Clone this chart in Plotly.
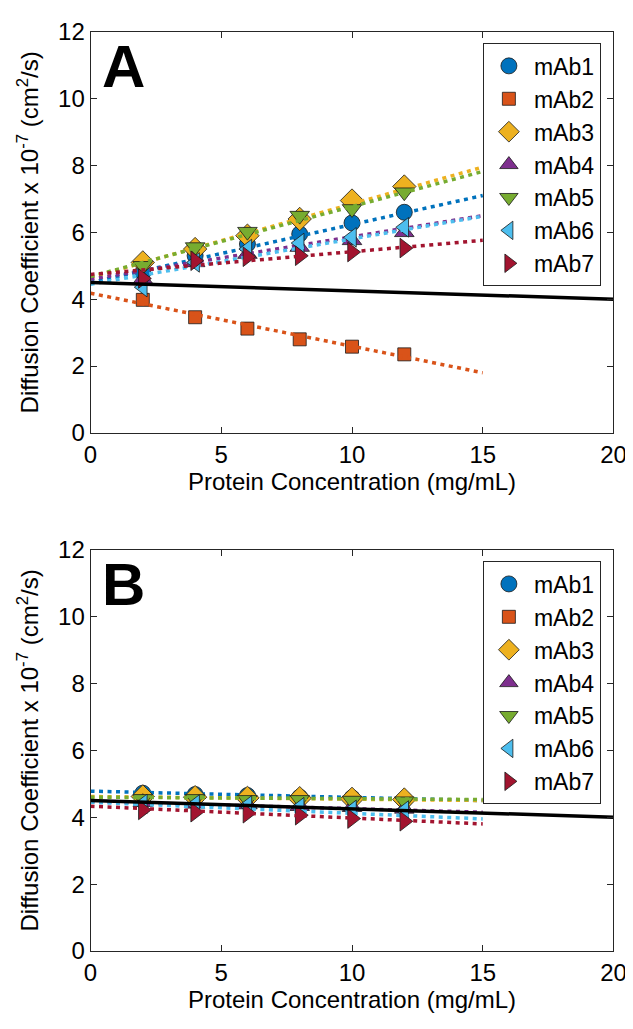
import plotly.graph_objects as go

# ---------------- data ----------------
conc = [2, 4, 6, 8, 10, 12]
names = ["mAb1", "mAb2", "mAb3", "mAb4", "mAb5", "mAb6", "mAb7"]

# Panel A measured diffusion coefficients (x 1e-7 cm^2/s)
a_mab1 = [4.80, 5.30, 5.65, 5.95, 6.28, 6.60]
a_mab2 = [3.98, 3.46, 3.12, 2.80, 2.58, 2.35]
a_mab3 = [5.10, 5.50, 5.90, 6.40, 6.95, 7.37]
a_mab4 = [4.60, 5.10, 5.35, 5.56, 5.76, 6.00]
a_mab5 = [5.00, 5.56, 6.02, 6.50, 6.70, 7.20]
a_mab6 = [4.36, 5.10, 5.50, 5.68, 5.85, 6.15]
a_mab7 = [4.62, 5.15, 5.27, 5.30, 5.41, 5.53]

# Panel A linear fits: value at 0 and at 15 mg/mL
fit_x = [0, 15]
a_fit_start = [4.50, 4.18, 4.65, 4.60, 4.68, 4.45, 4.74]
a_fit_end = [7.10, 1.80, 7.95, 6.50, 7.82, 6.48, 5.76]

# Panel B measured diffusion coefficients
b_mab1 = [4.72, 4.68, 4.65, 4.60, 4.58, 4.52]
b_mab2 = []  # not shown in panel B
b_mab3 = [4.62, 4.60, 4.58, 4.57, 4.55, 4.53]
b_mab4 = [4.45, 4.40, 4.38, 4.33, 4.30, 4.25]
b_mab5 = [4.55, 4.55, 4.52, 4.52, 4.50, 4.48]
b_mab6 = [4.40, 4.38, 4.35, 4.30, 4.22, 4.20]
b_mab7 = [4.22, 4.15, 4.12, 4.06, 3.96, 3.88]

b_fit_start = [4.78, None, 4.62, 4.47, 4.60, 4.45, 4.33]
b_fit_end = [4.50, None, 4.50, 4.15, 4.53, 3.95, 3.80]

# Reference (solid black) line
ref_x = [0, 20]
ref_y = [4.5, 4.0]

x_ticks = [0, 5, 10, 15, 20]
y_ticks = [0, 2, 4, 6, 8, 10, 12]

# ---------------- style ----------------
colors = ["#0072BD", "#D95319", "#EDB120", "#7E2F8E", "#77AC30", "#4DBEEE", "#A2142F"]
symbols = ["circle", "square", "diamond", "triangle-up", "triangle-down", "triangle-left", "triangle-right"]
sizes = [16, 13, 18, 17, 17, 17, 17]
FONT = "Liberation Sans, Arial, sans-serif"
AX = "#262626"

a_vals = [a_mab1, a_mab2, a_mab3, a_mab4, a_mab5, a_mab6, a_mab7]
b_vals = [b_mab1, b_mab2, b_mab3, b_mab4, b_mab5, b_mab6, b_mab7]

fig = go.Figure()

def add_panel(vals, fs, fe, xa, ya, legend):
    for i, nm in enumerate(names):
        xs = conc[:len(vals[i])]
        fig.add_trace(go.Scatter(
            x=xs if xs else [None], y=vals[i] if vals[i] else [None],
            mode="markers", name=nm, xaxis=xa, yaxis=ya, legend=legend,
            marker=dict(symbol=symbols[i], size=sizes[i], color=colors[i],
                        line=dict(color="#1a1a1a", width=0.8)),
        ))
        if fs[i] is not None:
            fig.add_trace(go.Scatter(
                x=fit_x, y=[fs[i], fe[i]], mode="lines", showlegend=False,
                xaxis=xa, yaxis=ya, hoverinfo="skip",
                line=dict(color=colors[i], width=3.5, dash="4px,4.5px"),
            ))
    fig.add_trace(go.Scatter(
        x=ref_x, y=ref_y, mode="lines", showlegend=False, xaxis=xa, yaxis=ya,
        line=dict(color="black", width=3.5),
    ))

add_panel(a_vals, a_fit_start, a_fit_end, "x", "y", "legend")
add_panel(b_vals, b_fit_start, b_fit_end, "x2", "y2", "legend2")

W, H = 633, 1029
xdom = [78 / W, 618 / W]
ydomA = [1 - 422 / H, 1 - 10 / H]
ydomB = [1 - 954 / H, 1 - 542 / H]

def xaxis(anchor):
    return dict(domain=xdom, anchor=anchor, range=[0, 20], tickvals=x_ticks,
                ticks="inside", ticklen=6, tickcolor=AX, showline=True,
                linecolor=AX, linewidth=1, mirror="ticks", showgrid=False,
                zeroline=False, tickfont=dict(size=24, color="black"),
                title=dict(text="Protein Concentration (mg/mL)",
                           font=dict(size=24, color="black"), standoff=6))

def yaxis(anchor, dom):
    return dict(domain=dom, anchor=anchor, range=[0, 12], tickvals=y_ticks,
                ticks="inside", ticklen=6, tickcolor=AX, showline=True,
                linecolor=AX, linewidth=1, mirror="ticks", showgrid=False,
                zeroline=False, tickfont=dict(size=24, color="black"),
                title=dict(text="Diffusion Coefficient x 10<sup>-7</sup> (cm<sup>2</sup>/s)",
                           font=dict(size=24, color="black"), standoff=12))

leg_common = dict(xanchor="right", yanchor="top", x=605 / W,
                  bgcolor="white", bordercolor=AX, borderwidth=1,
                  font=dict(size=23, color="black", family=FONT),
                  tracegroupgap=0, itemwidth=40)

fig.update_layout(
    width=W, height=H, margin=dict(l=0, r=0, t=0, b=0),
    paper_bgcolor="white", plot_bgcolor="white",
    font=dict(family=FONT, color="black"),
    xaxis=xaxis("y"), yaxis=yaxis("x", ydomA),
    xaxis2=xaxis("y2"), yaxis2=yaxis("x2", ydomB),
    legend=dict(y=1 - 22 / H, **leg_common),
    legend2=dict(y=1 - 554 / H, **leg_common),
    annotations=[
        dict(text="<b>A</b>", xref="paper", yref="paper", x=88 / W, y=1 - 9 / H,
             xanchor="left", yanchor="top", showarrow=False,
             font=dict(size=60, color="black", family=FONT)),
        dict(text="<b>B</b>", xref="paper", yref="paper", x=88 / W, y=1 - 541 / H,
             xanchor="left", yanchor="top", showarrow=False,
             font=dict(size=60, color="black", family=FONT)),
    ],
)

fig.write_html("out.html")
